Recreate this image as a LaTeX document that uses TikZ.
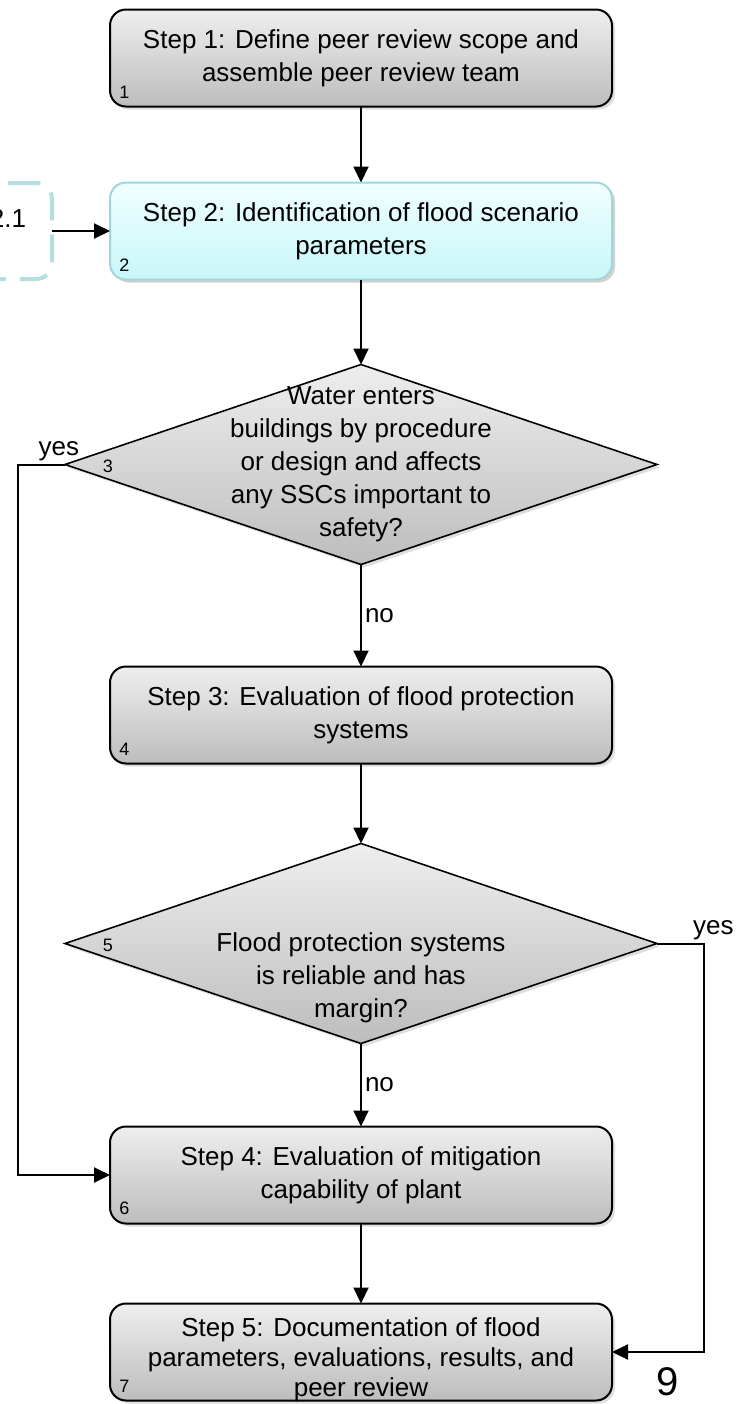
\documentclass[tikz,border=0pt]{standalone}
\usepackage{fontspec}
\setmainfont{Liberation Sans}
\usetikzlibrary{positioning,arrows.meta,shapes.geometric,shadows}

\definecolor{greytop}{HTML}{EEEEEE}
\definecolor{greybot}{HTML}{BDBDBD}
\definecolor{cyantop}{HTML}{F0FFFF}
\definecolor{cyanbot}{HTML}{C8F6F8}
\definecolor{cyanline}{HTML}{A2D5D9}
\definecolor{dashline}{HTML}{B6DDE0}

\newcommand{\chartfont}{\fontsize{13pt}{16.5pt}\selectfont}
\newcommand{\tagfont}{\fontsize{9pt}{10pt}\selectfont}

\begin{document}
\begin{tikzpicture}[
x=0.5pt, y=-0.5pt,
node distance=40pt,
stepbox/.style={
    draw,
    line width=1pt,
    outer sep=0pt,
    rounded corners=8pt,
    minimum width=251pt,
    minimum height=48.5pt,
    inner sep=2pt,
    align=center,
    font=\chartfont,
    top color=greytop,
    bottom color=greybot,
    drop shadow={shadow xshift=1.5pt, shadow yshift=-1.5pt, opacity=0.25}
},
cyanbox/.style={
    draw=cyanline,
    top color=cyantop,
    bottom color=cyanbot,
    drop shadow={shadow xshift=1.5pt, shadow yshift=-1.5pt, opacity=0.15}
},
subbox/.style={
    draw=dashline,
    line width=2pt,
    outer sep=0pt,
    dash pattern=on 14pt off 7pt,
    rounded corners=8pt,
    minimum width=44pt,
    minimum height=48pt,
    font=\chartfont
},
decision/.style={
    draw,
    diamond,
    line width=0.8pt,
    outer sep=0pt,
    inner sep=0pt,
    minimum width=296pt,
    minimum height=100pt,
    top color=greytop,
    bottom color=greybot,
    drop shadow={shadow xshift=1.5pt, shadow yshift=-1.5pt, opacity=0.25}
},
dectext/.style={align=center, font=\chartfont, inner sep=0pt},
numtag/.style={anchor=south west, font=\tagfont, inner sep=0pt, xshift=4.5pt, yshift=4pt},
dectag/.style={anchor=center, font=\tagfont, inner sep=0pt, xshift=21.5pt, yshift=-1pt},
flowlabel/.style={font=\chartfont, inner sep=1.5pt},
flow/.style={line width=1pt, -{Triangle[width=7.5pt,length=8pt]}}
]

\useasboundingbox (0,0) rectangle (735,1404);

\node[stepbox, label={[numtag]south west:1}] (step1) at (361,58)
{Step 1: Define peer review scope and\\assemble peer review team};

\node[stepbox, cyanbox, label={[numtag]south west:2}] (step2) [below=38pt of step1]
{Step 2: Identification of flood scenario\\parameters};

\node[subbox] (sub21) [left=29pt of step2] {\raisebox{1.8pt}[0pt][0pt]{2.1}};

\node[decision, label={[dectag]west:3}] (dec1) [below=42.5pt of step2] {};
\node[dectext] (dec1text) at (dec1.center)
{Water enters\\buildings by procedure\\or design and affects\\any SSCs important to\\safety?};

\node[stepbox, label={[numtag]south west:4}] (step3) [below=51pt of dec1]
{Step 3: Evaluation of flood protection\\systems};

\node[decision, label={[dectag]west:5}] (dec2) [below=40pt of step3] {};
\node[dectext] (dec2text) at ([yshift=-17pt]dec2.center)
{Flood protection systems\\is reliable and has\\margin?};

\node[stepbox, label={[numtag]south west:6}] (step4) [below=41.5pt of dec2]
{Step 4: Evaluation of mitigation\\capability of plant};

\node[stepbox, label={[numtag]south west:7}] (step5) [below=40pt of step4] {};
\node[dectext, font=\fontsize{13pt}{15pt}\selectfont] (step5text) at ([yshift=-4pt]step5.center)
{Step 5: Documentation of flood\\parameters, evaluations, results, and\\peer review};

\node[font=\fontsize{20pt}{24pt}\selectfont, inner sep=0pt] (pagenum) at (668,1382) {9};

\coordinate (yesleft) at ([xshift=-23.5pt]dec1.west);
\coordinate (yesright) at ([xshift=23.5pt]dec2.east);

\draw[flow] (step1)--(step2);
\draw[flow] (sub21)--(step2);
\draw[flow] (step2)--(dec1);
\draw[flow] (dec1)--node[flowlabel, right]{no}(step3);
\draw[flow] (step3)--(dec2);
\draw[flow] (dec2)--node[flowlabel, right]{no}(step4);
\draw[flow] (step4)--(step5);
\draw[flow] (dec1.west)--node[flowlabel, above, pos=0.13]{yes}(yesleft)|-(step4.west);
\draw[flow] (dec2.east)--node[flowlabel, above, pos=1.2]{yes}(yesright)|-(step5.east);

\end{tikzpicture}
\end{document}
